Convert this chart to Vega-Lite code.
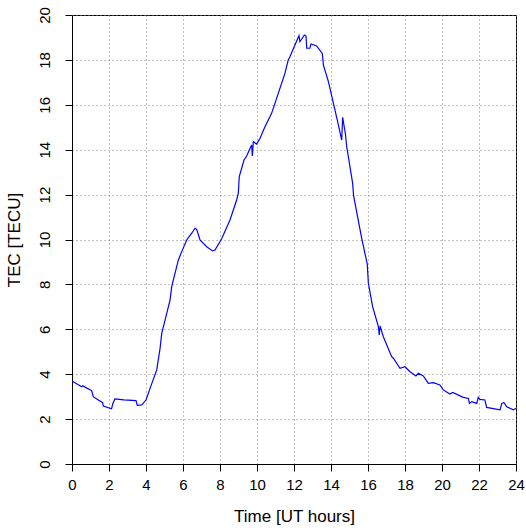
{
  "$schema": "https://vega.github.io/schema/vega-lite/v6.json",
  "width": 444,
  "height": 449,
  "autosize": {"type": "none"},
  "padding": {"left": 72, "top": 15, "right": 10, "bottom": 67},
  "background": "white",
  "config": {
    "font": "Liberation Sans",
    "view": {"stroke": "black", "strokeWidth": 1},
    "axis": {
      "domainColor": "black",
      "tickColor": "black",
      "tickSize": 7,
      "labelColor": "black",
      "titleColor": "black",
      "labelFont": "Liberation Sans",
      "titleFont": "Liberation Sans",
      "labelFontSize": 15,
      "titleFontSize": 17,
      "titleFontWeight": "normal",
      "grid": true,
      "gridColor": "#808080",
      "gridDash": [1, 3],
      "gridWidth": 1
    }
  },
  "data": {
    "values": [
      {"t": 0.00, "tec": 3.70}, {"t": 0.04, "tec": 3.67}, {"t": 0.30, "tec": 3.55}, {"t": 0.52, "tec": 3.44},
      {"t": 0.58, "tec": 3.49}, {"t": 0.80, "tec": 3.38}, {"t": 1.06, "tec": 3.27}, {"t": 1.15, "tec": 3.00},
      {"t": 1.40, "tec": 2.86}, {"t": 1.66, "tec": 2.73}, {"t": 1.69, "tec": 2.58}, {"t": 2.14, "tec": 2.46},
      {"t": 2.20, "tec": 2.67}, {"t": 2.32, "tec": 2.90}, {"t": 2.80, "tec": 2.86}, {"t": 3.46, "tec": 2.82},
      {"t": 3.53, "tec": 2.61}, {"t": 3.77, "tec": 2.63}, {"t": 4.00, "tec": 2.85}, {"t": 4.22, "tec": 3.37},
      {"t": 4.58, "tec": 4.19}, {"t": 4.76, "tec": 5.15}, {"t": 4.85, "tec": 5.82}, {"t": 5.12, "tec": 6.71},
      {"t": 5.30, "tec": 7.30}, {"t": 5.39, "tec": 7.90}, {"t": 5.75, "tec": 9.09}, {"t": 5.93, "tec": 9.46},
      {"t": 6.20, "tec": 9.98}, {"t": 6.47, "tec": 10.28}, {"t": 6.65, "tec": 10.50}, {"t": 6.74, "tec": 10.45},
      {"t": 6.92, "tec": 9.98}, {"t": 7.28, "tec": 9.68}, {"t": 7.60, "tec": 9.49}, {"t": 7.73, "tec": 9.53},
      {"t": 8.09, "tec": 10.03}, {"t": 8.54, "tec": 10.87}, {"t": 8.90, "tec": 11.76}, {"t": 8.99, "tec": 12.06},
      {"t": 9.04, "tec": 12.80}, {"t": 9.30, "tec": 13.54}, {"t": 9.44, "tec": 13.72}, {"t": 9.71, "tec": 14.21},
      {"t": 9.75, "tec": 13.72}, {"t": 9.80, "tec": 14.36}, {"t": 9.98, "tec": 14.25}, {"t": 10.16, "tec": 14.50},
      {"t": 10.43, "tec": 15.02}, {"t": 10.79, "tec": 15.62}, {"t": 11.15, "tec": 16.51}, {"t": 11.51, "tec": 17.40},
      {"t": 11.69, "tec": 18.00}, {"t": 11.78, "tec": 18.14}, {"t": 12.05, "tec": 18.66}, {"t": 12.27, "tec": 19.08},
      {"t": 12.32, "tec": 18.81}, {"t": 12.56, "tec": 19.11}, {"t": 12.65, "tec": 19.06}, {"t": 12.69, "tec": 18.52},
      {"t": 12.86, "tec": 18.52}, {"t": 12.92, "tec": 18.71}, {"t": 13.22, "tec": 18.62}, {"t": 13.53, "tec": 18.29},
      {"t": 13.59, "tec": 17.77}, {"t": 13.86, "tec": 17.03}, {"t": 14.09, "tec": 16.21}, {"t": 14.34, "tec": 15.32},
      {"t": 14.58, "tec": 14.43}, {"t": 14.63, "tec": 15.44}, {"t": 14.78, "tec": 14.70}, {"t": 14.85, "tec": 14.13},
      {"t": 15.17, "tec": 12.50}, {"t": 15.22, "tec": 11.95}, {"t": 15.66, "tec": 10.05}, {"t": 15.96, "tec": 8.90},
      {"t": 16.02, "tec": 8.05}, {"t": 16.25, "tec": 7.01}, {"t": 16.56, "tec": 6.12}, {"t": 16.61, "tec": 5.75},
      {"t": 16.65, "tec": 6.15}, {"t": 16.83, "tec": 5.67}, {"t": 17.28, "tec": 4.78}, {"t": 17.37, "tec": 4.71},
      {"t": 17.73, "tec": 4.26}, {"t": 18.00, "tec": 4.33}, {"t": 18.27, "tec": 4.11}, {"t": 18.59, "tec": 3.92},
      {"t": 18.72, "tec": 4.04}, {"t": 18.99, "tec": 3.92}, {"t": 19.26, "tec": 3.59}, {"t": 19.53, "tec": 3.62},
      {"t": 19.89, "tec": 3.52}, {"t": 20.07, "tec": 3.30}, {"t": 20.43, "tec": 3.12}, {"t": 20.58, "tec": 3.19},
      {"t": 21.15, "tec": 2.97}, {"t": 21.43, "tec": 2.92}, {"t": 21.48, "tec": 2.70}, {"t": 21.61, "tec": 2.78},
      {"t": 21.88, "tec": 2.70}, {"t": 21.96, "tec": 2.97}, {"t": 22.05, "tec": 2.88}, {"t": 22.32, "tec": 2.85},
      {"t": 22.41, "tec": 2.52}, {"t": 23.14, "tec": 2.41}, {"t": 23.23, "tec": 2.70}, {"t": 23.35, "tec": 2.73},
      {"t": 23.50, "tec": 2.55}, {"t": 23.86, "tec": 2.41}, {"t": 24.00, "tec": 2.48}
    ]
  },
  "mark": {"type": "line", "color": "#0000ff", "strokeWidth": 1.2, "clip": true},
  "encoding": {
    "x": {
      "field": "t",
      "type": "quantitative",
      "scale": {"domain": [0, 24], "nice": false, "zero": false},
      "axis": {
        "title": "Time [UT hours]",
        "values": [0, 2, 4, 6, 8, 10, 12, 14, 16, 18, 20, 22, 24],
        "labelPadding": 6,
        "titlePadding": 16,
        "labelFlush": false
      }
    },
    "y": {
      "field": "tec",
      "type": "quantitative",
      "scale": {"domain": [0, 20], "nice": false},
      "axis": {
        "title": "TEC [TECU]",
        "values": [0, 2, 4, 6, 8, 10, 12, 14, 16, 18, 20],
        "labelAngle": 270,
        "labelAlign": "center",
        "labelBaseline": "bottom",
        "labelPadding": 13,
        "labelFlush": false,
        "titlePadding": 14
      }
    }
  }
}
